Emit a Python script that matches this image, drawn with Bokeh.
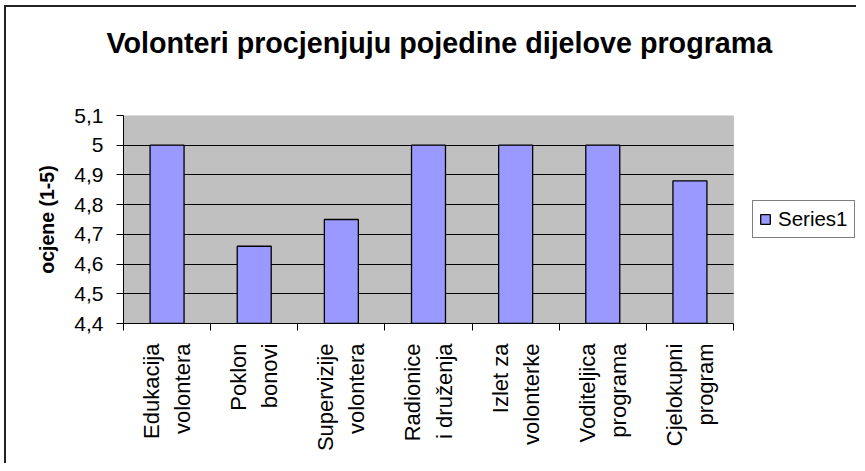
import math
from bokeh.plotting import figure
from bokeh.models import (Range1d, FixedTicker, Legend, LegendItem, ColumnDataSource,
                          BoxAnnotation, Title, Grid)
from bokeh.embed import file_html
from bokeh.resources import INLINE

# ---- data ----
categories = ["Edukacija\nvolontera", "Poklon\nbonovi", "Supervizije\nvolontera",
              "Radionice\ni druženja", "Izlet za\nvolonterke", "Voditeljica\nprograma",
              "Cjelokupni\nprogram"]
values = [5.0, 4.66, 4.75, 5.0, 5.0, 5.0, 4.88]
y_ticks = [4.4, 4.5, 4.6, 4.7, 4.8, 4.9, 5.0, 5.1]
y_tick_labels = ["4,4", "4,5", "4,6", "4,7", "4,8", "4,9", "5", "5,1"]
series_name = "Series1"
title_text = "Volonteri procjenjuju pojedine dijelove programa"
y_title = "ocjene (1-5)"

FONT = "Liberation Sans"
n = len(categories)
positions = [i + 0.5 for i in range(n)]
boundaries = list(range(n + 1))

# ---- layout constants (pixels) ----
W, H = 852, 458
ML, MT, MB = 117, 108, 142
PLOT_W = 610                       # width of the grey plot area
frame_w = W - ML
x_end = n * frame_w / PLOT_W       # leaves room on the right for the legend

p = figure(width=W, height=H, output_backend="svg", toolbar_location=None,
           x_range=Range1d(0, x_end), y_range=Range1d(y_ticks[0], y_ticks[-1]),
           min_border_left=ML, min_border_right=0, min_border_top=MT,
           min_border_bottom=MB)
p.styles = {"margin-left": "6px", "margin-top": "7px",
            "box-shadow": "-2px -2px 0px 0px #222"}

p.background_fill_color = "white"
p.border_fill_color = "white"
p.outline_line_color = None

# grey plot area
p.add_layout(BoxAnnotation(left=0, right=n, bottom=y_ticks[0], top=y_ticks[-1],
                           fill_color="#C0C0C0", fill_alpha=1,
                           line_color="#808080", line_width=1, level="image"))

# grid lines limited to the plot area
p.xgrid.visible = False
yg = p.ygrid[0]
yg.ticker = FixedTicker(ticks=y_ticks)
yg.grid_line_color = "black"
yg.grid_line_width = 1
if "cross_bounds" in Grid.properties():
    yg.cross_bounds = (0, n)
else:
    yg.visible = False
    p.segment(x0=[0] * len(y_ticks[1:-1]), x1=[n] * len(y_ticks[1:-1]),
              y0=y_ticks[1:-1], y1=y_ticks[1:-1], line_color="black",
              line_width=1, level="underlay")

src = ColumnDataSource(dict(x=positions, top=values, bottom=[y_ticks[0]] * n))
r = p.vbar(x="x", top="top", bottom="bottom", width=0.39, source=src,
           fill_color="#9999FF", line_color="black", line_width=1.3)

# real title (outer) + spacer (closest to the frame)
p.title.text = title_text
p.title.text_font = FONT
p.title.text_font_size = "28.7px"
p.title.text_font_style = "bold"
p.title.align = "left"
p.title.offset = -17
p.title.standoff = 4
p.title.text_color = "black"
p.add_layout(Title(text=" ", text_font_size="1px", standoff=52), "above")

# y axis
ya = p.yaxis[0]
ya.ticker = FixedTicker(ticks=y_ticks)
ya.major_label_overrides = {t: l for t, l in zip(y_ticks, y_tick_labels)}
ya.major_label_text_font = FONT
ya.major_label_text_font_size = "21px"
ya.major_label_text_color = "black"
ya.major_tick_out = 7
ya.major_tick_in = 0
ya.minor_tick_line_color = None
ya.major_label_standoff = 13
ya.axis_line_color = "black"
ya.axis_label = y_title
ya.axis_label_text_font = FONT
ya.axis_label_text_font_size = "19.5px"
ya.axis_label_text_font_style = "bold"
ya.axis_label_text_color = "black"
ya.axis_label_standoff = 13

# x axis
xa = p.xaxis[0]
xa.bounds = (0, n)
xa.ticker = FixedTicker(ticks=positions, minor_ticks=boundaries)
xa.major_label_overrides = {pos: c for pos, c in zip(positions, categories)}
xa.major_label_orientation = math.pi / 2
xa.major_label_text_font = FONT
xa.major_label_text_font_size = "22px"
xa.major_label_text_color = "black"
xa.major_label_text_line_height = 1.25
xa.major_tick_line_color = None
xa.major_tick_out = 7
xa.major_tick_in = 0
xa.minor_tick_out = 7
xa.minor_tick_in = 0
xa.minor_tick_line_color = "black"
xa.major_label_standoff = 13
xa.axis_line_color = "black"

legend = Legend(items=[LegendItem(label=series_name, renderers=[r])],
                location=(629, 85), orientation="vertical",
                label_text_font=FONT, label_text_font_size="20.5px",
                label_text_color="black",
                glyph_width=12, glyph_height=12, label_standoff=7,
                label_height=24, padding=6, margin=0, spacing=0,
                border_line_color="black", border_line_width=1,
                background_fill_color="white", background_fill_alpha=1)
p.add_layout(legend)

open("out.html", "w").write(file_html(p, INLINE))
